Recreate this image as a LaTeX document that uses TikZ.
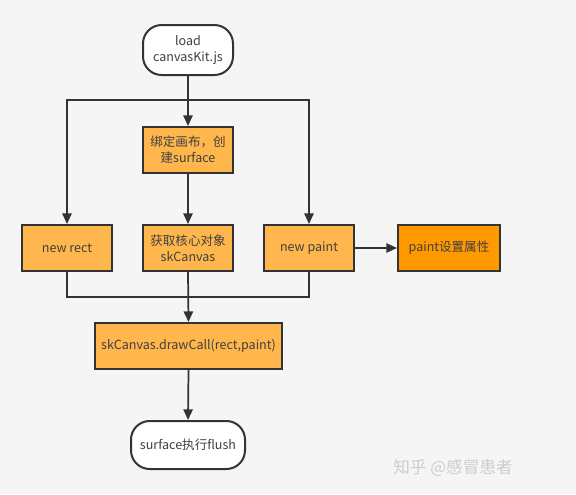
\documentclass[tikz,border=0pt]{standalone}
\usepackage{fontspec}
\setmainfont{Noto Sans CJK SC}
\usetikzlibrary{arrows.meta,positioning}
\definecolor{bgc}{HTML}{F5F5F5}
\definecolor{boxc}{HTML}{FFB64C}
\definecolor{boxd}{HTML}{FF9900}
\definecolor{linec}{HTML}{333333}
\definecolor{txtc}{HTML}{404040}
\definecolor{wmc}{HTML}{CDCDCD}
\tikzset{
  px/.style={x=0.75pt,y=-0.75pt},
  base/.style={draw=linec, line width=1.5pt, text=txtc, align=center, inner sep=0pt,
    font=\fontsize{9.4pt}{12pt}\selectfont},
  procbox/.style={base, fill=boxc, minimum width=67.5pt, minimum height=34.5pt},
  termbox/.style={base, fill=white, rounded corners=14pt, minimum width=67.5pt, minimum height=37.5pt},
  conn/.style={draw=linec, line width=1.3pt},
  arr/.style={conn, -{Triangle[length=8pt,width=7pt]}},
}
\begin{document}
\begin{tikzpicture}[px]
\fill[bgc] (0,0) rectangle (576,494);
\useasboundingbox (0,0) rectangle (576,494);
\node[termbox] (load) at (188,50) {load\\canvasKit.js};
\node[procbox] (bind) at (188,150) {绑定画布，创\\建surface};
\node[procbox] (rect) at (67,248) {new rect};
\node[procbox] (skc) at (188,248) {获取核心对象\\skCanvas};
\node[procbox] (paint) at (309,248) {new paint};
\node[procbox, fill=boxd, minimum width=76.5pt] (attr) at (449,248) {paint设置属性};
\node[procbox, minimum width=140pt] (dc) at (188.5,346) {skCanvas.drawCall(rect,paint)};
\node[termbox, minimum width=85.5pt, minimum height=36pt] (flush) at (188,445) {surface执行flush};
\coordinate (j) at (188,100);
\coordinate (m) at (188,297);
\node[text=wmc, font=\fontsize{12.5pt}{14pt}\selectfont, inner sep=0pt] (wm) at (453,468) {知乎 @感冒患者};
\draw[conn] (load.south) -- (j);
\draw[arr] (j) -- (bind.north);
\draw[arr] (j) -| (rect.north);
\draw[arr] (j) -| (paint.north);
\draw[arr] (bind.south) -- (skc.north);
\draw[arr] (paint.east) -- (attr.west);
\draw[conn] (rect.south) |- (m);
\draw[conn] (paint.south) |- (m);
\draw[arr] (skc.south) -- (dc.north);
\draw[arr] (dc.south) -- (flush.north);
\end{tikzpicture}
\end{document}
